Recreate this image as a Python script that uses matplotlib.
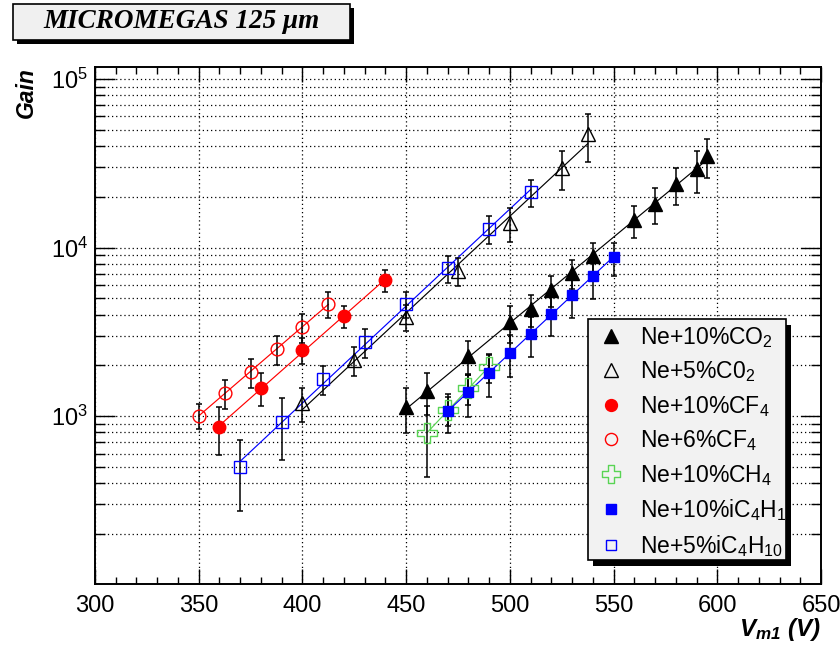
import numpy as np
import matplotlib
matplotlib.use('Agg')
import matplotlib.pyplot as plt
from matplotlib.patches import Rectangle
from matplotlib.path import Path
from matplotlib.lines import Line2D
from matplotlib.transforms import IdentityTransform, Bbox
from matplotlib.ticker import MultipleLocator, LogLocator, FuncFormatter, NullFormatter

plt.rcParams['font.family'] = ['Liberation Sans', 'DejaVu Sans']
plt.rcParams['mathtext.fontset'] = 'custom'
plt.rcParams['mathtext.rm'] = 'Liberation Sans'
plt.rcParams['mathtext.it'] = 'Liberation Sans:italic'
plt.rcParams['mathtext.bf'] = 'Liberation Sans:bold'
plt.rcParams['mathtext.bfit'] = 'Liberation Sans:italic:bold'

# ---------------- data ----------------
v_co2_10 = [450, 460, 480, 500, 510, 520, 530, 540, 560, 570, 580, 590, 595]
g_co2_10 = [1130, 1410, 2270, 3610, 4310, 5600, 7070, 8920, 14550, 18100, 23800, 29200, 34900]
r_co2_10 = [0.30, 0.28, 0.23, 0.25, 0.22, 0.21, 0.20, 0.20, 0.22, 0.24, 0.25, 0.28, 0.26]

v_co2_5 = [400, 425, 450, 475, 500, 525, 537.5]
g_co2_5 = [1195, 2150, 3880, 7280, 13960, 29650, 47200]
r_co2_5 = [0.23, 0.20, 0.17, 0.19, 0.23, 0.26, 0.32]

v_cf4_10 = [360, 380, 400, 420, 440]
g_cf4_10 = [860, 1470, 2470, 3920, 6410]
r_cf4_10 = [0.32, 0.22, 0.18, 0.15, 0.15]

v_cf4_6 = [350, 362.5, 375, 387.5, 400, 412.5]
g_cf4_6 = [1005, 1370, 1825, 2500, 3380, 4630]
r_cf4_6 = [0.17, 0.19, 0.20, 0.20, 0.20, 0.18]

v_ch4_10 = [460, 470, 480, 490]
g_ch4_10 = [790, 1086, 1460, 1960]
r_ch4_10 = [0.45, 0.20, 0.20, 0.20]

v_ic4_10 = [470, 480, 490, 500, 510, 520, 530, 540, 550]
g_ic4_10 = [1070, 1385, 1805, 2380, 3070, 4030, 5230, 6810, 8740]
r_ic4_10 = [0.26, 0.29, 0.28, 0.28, 0.27, 0.26, 0.27, 0.27, 0.22]

v_ic4_5 = [370, 390, 410, 430, 450, 470, 490, 510]
g_ic4_5 = [500, 921, 1660, 2750, 4630, 7550, 12880, 21330]
r_ic4_5 = [0.45, 0.40, 0.20, 0.20, 0.17, 0.18, 0.19, 0.18]

labels = [r'Ne+10%CO$\mathregular{_2}$',
          r'Ne+5%C0$\mathregular{_2}$',
          r'Ne+10%CF$\mathregular{_4}$',
          r'Ne+6%CF$\mathregular{_4}$',
          r'Ne+10%CH$\mathregular{_4}$',
          r'Ne+10%iC$\mathregular{_4}$H$\mathregular{_{10}}$',
          r'Ne+5%iC$\mathregular{_4}$H$\mathregular{_{10}}$']

title_text = 'MICROMEGAS 125 \u03bcm'
x_range = (300, 650)
y_range = (101, 1.178e5)

# ---------------- styles ----------------
RED = '#ff0000'
BLUE = '#0000ff'
GREEN = '#59d454'

a = 0.36
cross_path = Path([(-a, 1), (a, 1), (a, a), (1, a), (1, -a), (a, -a), (a, -1), (-a, -1),
                   (-a, -a), (-1, -a), (-1, a), (-a, a), (-a, 1)], closed=True)

styles = [
    dict(marker='^', mfc='black', mec='black', ms=10.5, line='black'),
    dict(marker='^', mfc='none', mec='black', ms=10.5, line='black'),
    dict(marker='o', mfc=RED, mec=RED, ms=9.0, line=RED),
    dict(marker='o', mfc='none', mec=RED, ms=9.2, line=RED),
    dict(marker=cross_path, mfc='none', mec=GREEN, ms=14, line=GREEN),
    dict(marker='s', mfc=BLUE, mec=BLUE, ms=7.3, line=BLUE),
    dict(marker='s', mfc='none', mec=BLUE, ms=8.2, line=BLUE),
]

series = [
    (v_co2_10, g_co2_10, r_co2_10),
    (v_co2_5, g_co2_5, r_co2_5),
    (v_cf4_10, g_cf4_10, r_cf4_10),
    (v_cf4_6, g_cf4_6, r_cf4_6),
    (v_ch4_10, g_ch4_10, r_ch4_10),
    (v_ic4_10, g_ic4_10, r_ic4_10),
    (v_ic4_5, g_ic4_5, r_ic4_5),
]

fig = plt.figure(figsize=(8.4, 6.46), dpi=100)
ax = fig.add_axes([95 / 840, 62 / 646, 726 / 840, 517 / 646])

handles = []
for (v, g, r), st in zip(series, styles):
    v = np.asarray(v, float)
    g = np.asarray(g, float)
    err = g * np.asarray(r, float)
    ax.errorbar(v, g, yerr=err, fmt='none', ecolor='black', elinewidth=1.1,
                capsize=2.3, capthick=1.1, zorder=3)
    coef = np.polyfit(v, np.log10(g), 1)
    xs = np.array([v.min(), v.max()])
    ax.plot(xs, 10 ** np.polyval(coef, xs), color=st['line'], lw=0.85, zorder=2)
    ax.plot(v, g, ls='none', marker=st['marker'], mfc=st['mfc'], mec=st['mec'],
            ms=st['ms'], mew=1.0, zorder=4)
    handles.append(Line2D([], [], ls='none', marker=st['marker'], mfc=st['mfc'],
                          mec=st['mec'], ms=st['ms'] * 0.95, mew=1.0))

ax.set_xlim(*x_range)
ax.set_yscale('log')
ax.set_ylim(*y_range)

ax.xaxis.set_major_locator(MultipleLocator(50))
ax.xaxis.set_minor_locator(MultipleLocator(10))
ax.yaxis.set_major_locator(LogLocator(base=10, numticks=10))
ax.yaxis.set_minor_locator(LogLocator(base=10, subs=np.arange(2, 10), numticks=30))
ax.yaxis.set_minor_formatter(NullFormatter())
ax.yaxis.set_major_formatter(FuncFormatter(
    lambda val, pos: r'$\mathregular{10^{%d}}$' % int(round(np.log10(val)))))

ax.tick_params(axis='x', which='major', direction='in', length=10.5, width=1.0,
               top=True, labelsize=17, pad=8)
ax.tick_params(axis='x', which='minor', direction='in', length=5, width=1.0, top=True)
ax.tick_params(axis='y', which='major', direction='in', length=14.5, width=1.0,
               right=True, labelsize=17, pad=5)
ax.tick_params(axis='y', which='minor', direction='in', length=7.2, width=1.0, right=True)

ax.set_axisbelow(True)
ax.grid(True, axis='x', which='major', color='black', ls=(0, (1, 2.3)), lw=0.9)
ax.grid(True, axis='y', which='both', color='black', ls=(0, (1, 2.3)), lw=0.9)
for s in ax.spines.values():
    s.set_linewidth(1.4)

ax.set_ylabel('Gain', fontsize=16.5, fontweight='bold', fontstyle='italic', loc='top')
ax.yaxis.set_label_coords(-0.078, 1.0)
ax.set_xlabel(r'$\mathbfit{V}_{\mathbfit{m1}}$ (V)', fontsize=17.5, fontweight='bold',
              fontstyle='italic', loc='right')
ax.xaxis.set_label_coords(1.0, -0.062)

leg = ax.legend(handles, labels, loc='upper left', bbox_to_anchor=(0.679, 0.5126),
                borderaxespad=0, fontsize=16.5, frameon=False,
                labelspacing=0.42, handletextpad=0.5, handlelength=1.5, borderpad=0.25)
leg.set_zorder(10)

# legend frame + shadow (display pixels), texts clipped to the frame like the original
lx0, ly0, lw_, lh_ = 588, 646 - 560, 198, 241
ax.add_artist(Rectangle((lx0 + 5, ly0 - 6), lw_, lh_, transform=IdentityTransform(),
                        facecolor='black', edgecolor='none', zorder=8, clip_on=False))
ax.add_artist(Rectangle((lx0, ly0), lw_, lh_, transform=IdentityTransform(),
                        facecolor='#f2f2f2', edgecolor='black', lw=1.2, zorder=9, clip_on=False))
clip = Bbox.from_bounds(lx0, ly0, lw_ - 1, lh_)
for t in leg.get_texts():
    t.set_clip_on(True)
    t.set_clip_box(clip)

# title box
fig.add_artist(Rectangle((17 / 840, 1 - 44 / 646), 337 / 840, 36 / 646, transform=fig.transFigure,
                         facecolor='black', edgecolor='none', zorder=1))
fig.add_artist(Rectangle((13 / 840, 1 - 40 / 646), 337 / 840, 36 / 646, transform=fig.transFigure,
                         facecolor='#f0f0f0', edgecolor='black', lw=1.2, zorder=2))
fig.text(181 / 840, 1 - 22 / 646, title_text, ha='center', va='center',
         family=['Liberation Serif', 'DejaVu Serif'], weight='bold', style='italic',
         fontsize=19.5, zorder=3)

fig.savefig('out.png', dpi=100)
